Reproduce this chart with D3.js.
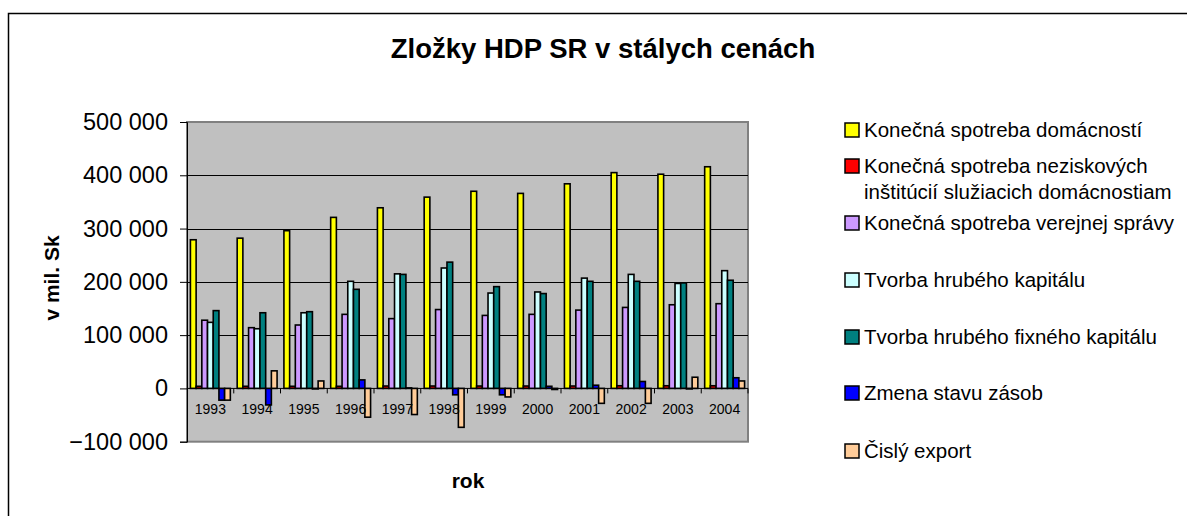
<!DOCTYPE html>
<html>
<meta charset="utf-8" />
<script src="https://d3js.org/d3.v7.min.js"></script>

<body>
    <style>
        body,
        html {
            margin: 0;
            padding: 0;
            width: 100%;
            height: 100%;
            overflow: hidden;
            background: #fff;
        }

        text {
            font-family: "Liberation Sans", Arial, sans-serif;
        }
    </style>

    <svg id="chart"></svg>

    <script>
        var years = ["1993", "1994", "1995", "1996", "1997", "1998", "1999", "2000", "2001", "2002", "2003", "2004"];

        var seriesNames = [
            "Konečná spotreba domácností",
            "Konečná spotreba neziskových inštitúcií služiacich domácnostiam",
            "Konečná spotreba verejnej správy",
            "Tvorba hrubého kapitálu",
            "Tvorba hrubého fixného kapitálu",
            "Zmena stavu zásob",
            "Čislý export"
        ];

        // values in mil. Sk
        var domacnosti = [279000, 282000, 296000, 321000, 339000, 359000, 370000, 366000, 384000, 405000, 402000, 416000];
        var neziskove = [4000, 4000, 4000, 4000, 4500, 4500, 4500, 4500, 4500, 5000, 5000, 5000];
        var verejnaSprava = [128000, 114000, 119000, 139000, 131000, 148000, 137000, 139000, 147000, 152000, 157000, 159000];
        var hrubyKapital = [124000, 112000, 142000, 201000, 215000, 226000, 179000, 181000, 207000, 214000, 197000, 221000];
        var fixnyKapital = [146000, 142000, 144000, 186000, 214000, 237000, 191000, 178000, 201000, 201000, 198000, 203000];
        var zasoby = [-22000, -31000, -1000, 16000, 1000, -12000, -12000, 4000, 6000, 13000, -1000, 20000];
        var cistyExport = [-22000, 33000, 14000, -54000, -49000, -73000, -16000, -2000, -28000, -28000, 21000, 14000];

        var yTicks = [-100000, 0, 100000, 200000, 300000, 400000, 500000];

        var colors = ["#ffff00", "#ff0000", "#cc99ff", "#ccffff", "#008080", "#0000ff", "#ffcc99"];

        var series = [domacnosti, neziskove, verejnaSprava, hrubyKapital, fixnyKapital, zasoby, cistyExport];

        var width = 1187, height = 516;
        var plot = { left: 187, top: 122, right: 748, bottom: 441.7 };

        var svg = d3.select("#chart")
            .attr("width", width)
            .attr("height", height);

        // outer chart border (runs off the right and bottom edge)
        svg.append("rect")
            .attr("x", 8.5).attr("y", 13.5)
            .attr("width", 1200).attr("height", 520)
            .attr("fill", "#fff")
            .attr("stroke", "#000").attr("stroke-width", 1.5);

        svg.append("text")
            .attr("x", 603).attr("y", 58)
            .attr("text-anchor", "middle")
            .style("font-size", "27.5px").style("font-weight", "bold")
            .text("Zložky HDP SR v stálych cenách");

        var y = d3.scaleLinear()
            .domain([-100000, 500000])
            .range([plot.bottom, plot.top]);

        var x0 = d3.scaleBand()
            .domain(years)
            .range([plot.left, plot.right])
            .paddingInner(0)
            .paddingOuter(0);

        var x1 = d3.scaleBand()
            .domain(d3.range(series.length))
            .range([0, x0.bandwidth()])
            .paddingOuter(0.6)
            .paddingInner(0);

        // plot area
        svg.append("rect")
            .attr("x", plot.left).attr("y", plot.top)
            .attr("width", plot.right - plot.left)
            .attr("height", plot.bottom - plot.top)
            .attr("fill", "#c0c0c0")
            .attr("stroke", "#808080").attr("stroke-width", 2);

        svg.append("g")
            .selectAll("line")
            .data(yTicks.filter(function (d) { return d > 0 && d < 500000; }))
            .enter().append("line")
            .attr("x1", plot.left).attr("x2", plot.right)
            .attr("y1", function (d) { return Math.round(y(d)) + 0.5; })
            .attr("y2", function (d) { return Math.round(y(d)) + 0.5; })
            .attr("stroke", "#000").attr("stroke-width", 1);

        var yAxis = svg.append("g")
            .attr("transform", "translate(" + plot.left + ",0)")
            .call(d3.axisLeft(y)
                .tickValues(yTicks)
                .tickSize(7)
                .tickPadding(12)
                .tickFormat(function (d) { return d3.format(",")(d).replace(/,/g, " "); }));
        yAxis.select(".domain").attr("stroke", "#000");
        yAxis.selectAll("text").style("font-size", "23.5px").attr("fill", "#000")
            .style("font-family", "'Liberation Sans', Arial, sans-serif");

        var groups = svg.append("g")
            .selectAll("g")
            .data(years)
            .enter().append("g")
            .attr("transform", function (d) { return "translate(" + x0(d) + ",0)"; });

        groups.selectAll("rect")
            .data(function (d, i) {
                return series.map(function (s, k) { return { k: k, v: s[i] }; });
            })
            .enter().append("rect")
            .attr("x", function (d) { return x1(d.k); })
            .attr("width", x1.bandwidth())
            .attr("y", function (d) { return y(Math.max(0, d.v)); })
            .attr("height", function (d) { return Math.abs(y(d.v) - y(0)); })
            .attr("fill", function (d) { return colors[d.k]; })
            .attr("stroke", "#000").attr("stroke-width", 1.6);

        // category axis at zero
        var xAxis = svg.append("g")
            .attr("transform", "translate(0," + y(0) + ")");
        xAxis.append("line")
            .attr("x1", plot.left).attr("x2", plot.right)
            .attr("stroke", "#000").attr("stroke-width", 1);
        xAxis.selectAll(".tick")
            .data(years)
            .enter().append("line")
            .attr("x1", function (d) { return x0(d) + x0.bandwidth(); })
            .attr("x2", function (d) { return x0(d) + x0.bandwidth(); })
            .attr("y1", 0).attr("y2", 5)
            .attr("stroke", "#000");
        xAxis.selectAll(".lbl")
            .data(years)
            .enter().append("text")
            .attr("x", function (d) { return x0(d) + x0.bandwidth() / 2; })
            .attr("y", 26)
            .attr("text-anchor", "middle")
            .style("font-size", "14px")
            .text(function (d) { return d; });

        svg.append("text")
            .attr("transform", "translate(59,278) rotate(-90)")
            .attr("text-anchor", "middle")
            .style("font-size", "21px").style("font-weight", "bold")
            .text("v mil. Sk");

        svg.append("text")
            .attr("x", 468).attr("y", 488)
            .attr("text-anchor", "middle")
            .style("font-size", "21px").style("font-weight", "bold")
            .text("rok");

        // legend
        var legendY = [130, 166, 223, 280, 337, 393, 451];
        var legend = svg.append("g");
        seriesNames.forEach(function (name, i) {
            var g = legend.append("g").attr("transform", "translate(845," + legendY[i] + ")");
            g.append("rect")
                .attr("x", 0).attr("y", -7)
                .attr("width", 14).attr("height", 14)
                .attr("fill", colors[i])
                .attr("stroke", "#000").attr("stroke-width", 1.5);
            var t = g.append("text")
                .attr("x", 19).attr("y", 7)
                .style("font-size", "20.5px");
            if (i === 1) {
                t.append("tspan").attr("x", 19).text("Konečná spotreba neziskových");
                t.append("tspan").attr("x", 19).attr("dy", 26).text("inštitúcií služiacich domácnostiam");
            } else {
                t.text(name);
            }
        });
    </script>
</body>

</html>
